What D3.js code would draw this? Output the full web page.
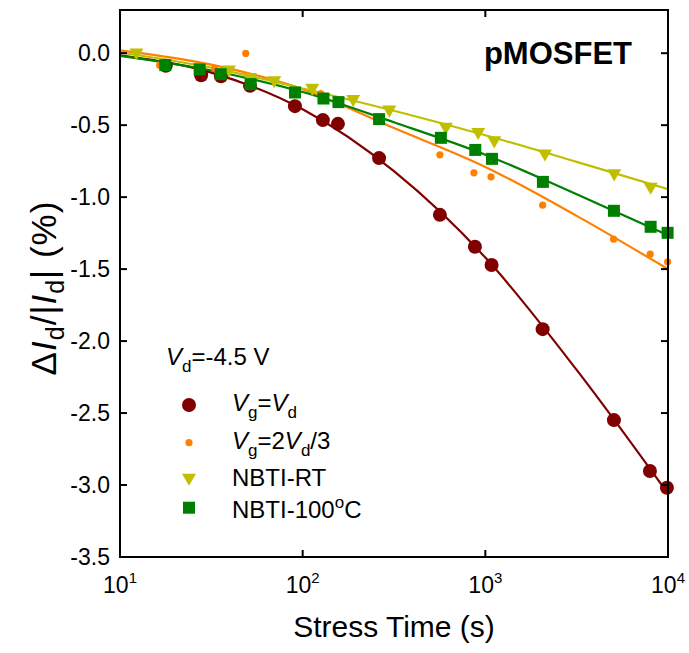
<!DOCTYPE html>
<meta charset="utf-8">
<script src="https://d3js.org/d3.v7.min.js"></script>
<style>
  body { margin: 0; background: #fff; }
  text { font-family: "Liberation Sans", Arial, sans-serif; }
</style>
<div id="my_dataviz"></div>
<script>

// measured points, stress time (s) and change of Id (%)
var tVgVd = [17.8, 27.8, 35.7, 51.5, 90.7, 129, 156, 262, 564, 877, 1082, 2059, 5058, 7962, 9864];
var vVgVd = [-0.088, -0.153, -0.160, -0.227, -0.368, -0.465, -0.491, -0.729, -1.123, -1.345, -1.472, -1.917, -2.549, -2.903, -3.019];

var tVg23 = [16.5, 26.7, 33, 48.8, 125.5, 564, 866, 1074, 2059, 5037, 7990, 9950];
var vVg23 = [-0.083, -0.11, -0.106, -0.002, -0.280, -0.706, -0.831, -0.859, -1.056, -1.292, -1.396, -1.449];

var tRT = [12.3, 27.1, 39.5, 51.3, 69.9, 112.9, 189, 298, 608, 914, 1119, 2120, 5076, 8034];
var vRT = [0.005, -0.097, -0.113, -0.165, -0.1875, -0.241, -0.319, -0.392, -0.512, -0.547, -0.606, -0.697, -0.835, -0.928];

var t100 = [17.7, 27.3, 35.6, 51.9, 90.8, 130, 157, 262, 571, 881, 1087, 2066, 5058, 8034, 9950];
var v100 = [-0.083, -0.113, -0.146, -0.215, -0.273, -0.315, -0.340, -0.458, -0.588, -0.672, -0.734, -0.894, -1.095, -1.206, -1.248];

// fitted curves at half decades
var fitT = [10, 31.6, 100, 316, 1000, 3162, 10000];
var fitVgVd = [-0.015, -0.135, -0.39, -0.82, -1.42, -2.20, -3.06];
var fitVg23 = [0.02, -0.08, -0.25, -0.52, -0.79, -1.13, -1.50];
var fitRT = [0.005, -0.10, -0.245, -0.40, -0.57, -0.755, -0.945];
var fit100 = [-0.019, -0.12, -0.27, -0.48, -0.705, -0.98, -1.265];

var xTicks = [10, 100, 1000, 10000];
var xExp = ["1", "2", "3", "4"];
var yTicks = [0.0, -0.5, -1.0, -1.5, -2.0, -2.5, -3.0, -3.5];

var colVgVd = "#800000", colVg23 = "#ff8000", colRT = "#bfbf00", col100 = "#008000";

var margin = {top: 10, right: 21, bottom: 96, left: 120},
    width = 689 - margin.left - margin.right,
    height = 653 - margin.top - margin.bottom;

var svgRoot = d3.select("#my_dataviz")
  .append("svg")
    .attr("width", 689)
    .attr("height", 653);
var svg = svgRoot.append("g")
    .attr("transform", "translate(" + margin.left + "," + margin.top + ")");

var x = d3.scaleLog().domain([10, 10000]).range([0, width]);
var y = d3.scaleLinear().domain([-3.5, 0.3]).range([height, 0]);

svg.append("clipPath").attr("id", "clip")
  .append("rect").attr("width", width).attr("height", height);

// fit lines
var line = d3.line()
  .x(function(d) { return x(d[0]); })
  .y(function(d) { return y(d[1]); })
  .curve(d3.curveMonotoneX);

var fits = [[fitVgVd, colVgVd], [fitVg23, colVg23], [fitRT, colRT], [fit100, col100]];
fits.forEach(function(f) {
  svg.append("path")
    .datum(fitT.map(function(t, i) { return [t, f[0][i]]; }))
    .attr("clip-path", "url(#clip)")
    .attr("fill", "none")
    .attr("stroke", f[1])
    .attr("stroke-width", 2.2)
    .attr("d", line);
});

// markers
function pts(ts, vs) { return ts.map(function(t, i) { return [t, vs[i]]; }); }

svg.selectAll(".c1").data(pts(tVgVd, vVgVd)).enter().append("circle")
  .attr("cx", function(d) { return x(d[0]); })
  .attr("cy", function(d) { return y(d[1]); })
  .attr("r", 7).attr("fill", colVgVd);

svg.selectAll(".c2").data(pts(tVg23, vVg23)).enter().append("circle")
  .attr("cx", function(d) { return x(d[0]); })
  .attr("cy", function(d) { return y(d[1]); })
  .attr("r", 3.6).attr("fill", colVg23);

var tri = d3.symbol().type(d3.symbolTriangle).size(85);
svg.selectAll(".c3").data(pts(tRT, vRT)).enter().append("path")
  .attr("d", tri)
  .attr("transform", function(d) { return "translate(" + x(d[0]) + "," + y(d[1]) + ") rotate(180)"; })
  .attr("fill", colRT);

svg.selectAll(".c4").data(pts(t100, v100)).enter().append("rect")
  .attr("x", function(d) { return x(d[0]) - 6; })
  .attr("y", function(d) { return y(d[1]) - 6; })
  .attr("width", 12).attr("height", 12)
  .attr("fill", col100);

// frame and ticks
svg.append("rect").attr("width", width).attr("height", height)
  .attr("fill", "none").attr("stroke", "#000").attr("stroke-width", 2);

var tl = 7;
xTicks.forEach(function(t, i) {
  svg.append("line").attr("x1", x(t)).attr("x2", x(t)).attr("y1", height).attr("y2", height - tl)
    .attr("stroke", "#000").attr("stroke-width", 2);
  svg.append("line").attr("x1", x(t)).attr("x2", x(t)).attr("y1", 0).attr("y2", tl)
    .attr("stroke", "#000").attr("stroke-width", 2);
  var lab = svg.append("text")
    .attr("x", x(t)).attr("y", height + 36)
    .attr("text-anchor", "middle")
    .style("font-size", "23px");
  lab.append("tspan").text("10");
  lab.append("tspan").attr("dy", -10).style("font-size", "15px").text(xExp[i]);
});

yTicks.forEach(function(v) {
  svg.append("line").attr("x1", 0).attr("x2", tl).attr("y1", y(v)).attr("y2", y(v))
    .attr("stroke", "#000").attr("stroke-width", 2);
  svg.append("line").attr("x1", width).attr("x2", width - tl).attr("y1", y(v)).attr("y2", y(v))
    .attr("stroke", "#000").attr("stroke-width", 2);
  svg.append("text")
    .attr("x", -10).attr("y", y(v) + 8)
    .attr("text-anchor", "end")
    .style("font-size", "23px")
    .text(v.toFixed(1));
});

// axis titles
svg.append("text")
  .attr("x", width / 2).attr("y", height + 80)
  .attr("text-anchor", "middle")
  .style("font-size", "30px")
  .text("Stress Time (s)");

var yt = svgRoot.append("text")
  .attr("transform", "translate(56,288) rotate(-90)")
  .attr("text-anchor", "middle")
  .style("font-size", "35px")
  .style("letter-spacing", "1px");
yt.append("tspan").text("\u0394");
yt.append("tspan").style("font-style", "italic").text("I");
yt.append("tspan").attr("dy", 8).style("font-size", "25px").text("d");
yt.append("tspan").attr("dy", -8).text("/|");
yt.append("tspan").style("font-style", "italic").text("I");
yt.append("tspan").attr("dy", 8).style("font-size", "25px").text("d");
yt.append("tspan").attr("dy", -8).text("| (%)");

svg.append("text")
  .attr("x", 512).attr("y", 54)
  .attr("text-anchor", "end")
  .style("font-size", "31px")
  .style("font-weight", "bold")
  .text("pMOSFET");

// legend
function rich(sel, parts) {
  parts.forEach(function(p) {
    var s = sel.append("tspan").text(p[0]);
    if (p[1] == "i") s.style("font-style", "italic");
    if (p[1] == "sub") s.attr("dy", 7).style("font-size", "17px");
    if (p[1] == "up") s.attr("dy", -7);
    if (p[1] == "sup") s.attr("dy", -10).style("font-size", "17px");
    if (p[1] == "down") s.attr("dy", 10);
  });
}

var vd = svg.append("text").attr("x", 46).attr("y", 355).style("font-size", "24px");
rich(vd, [["V", "i"], ["d", "sub"], ["=-4.5 V", "up"]]);

var legX = 69, legTx = 112;
var legY = [395, 432.7, 467.7, 497.7];

svg.append("circle").attr("cx", legX).attr("cy", legY[0]).attr("r", 7).attr("fill", colVgVd);
svg.append("circle").attr("cx", legX).attr("cy", legY[1]).attr("r", 3.6).attr("fill", colVg23);
svg.append("path").attr("d", tri).attr("transform", "translate(" + legX + "," + legY[2] + ") rotate(180)").attr("fill", colRT);
svg.append("rect").attr("x", legX - 6).attr("y", legY[3] - 6).attr("width", 12).attr("height", 12).attr("fill", col100);

var l1 = svg.append("text").attr("x", legTx).attr("y", legY[0] + 6).style("font-size", "24px");
rich(l1, [["V", "i"], ["g", "sub"], ["=", "up"], ["V", "i"], ["d", "sub"]]);
var l2 = svg.append("text").attr("x", legTx).attr("y", legY[1] + 6).style("font-size", "24px");
rich(l2, [["V", "i"], ["g", "sub"], ["=2", "up"], ["V", "i"], ["d", "sub"], ["/3", "up"]]);
svg.append("text").attr("x", legTx).attr("y", legY[2] + 8).style("font-size", "24px").text("NBTI-RT");
var l4 = svg.append("text").attr("x", legTx).attr("y", legY[3] + 10).style("font-size", "24px");
rich(l4, [["NBTI-100", ""], ["o", "sup"], ["C", "down"]]);

</script>
